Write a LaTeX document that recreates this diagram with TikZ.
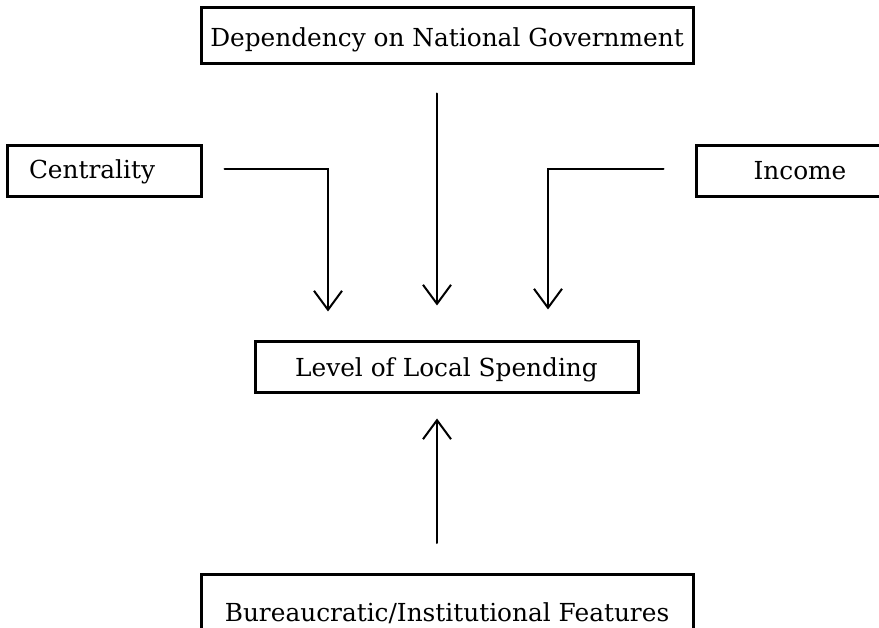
\documentclass[tikz,border=0pt]{standalone}
\usepackage{fontspec}
\setmainfont{DejaVu Serif}
\usetikzlibrary{arrows.meta}
\begin{document}
\begin{tikzpicture}[x=1pt,y=-1pt,
  box/.style={draw, line width=3pt, inner sep=0pt, text depth=6pt,
    font=\fontsize{24.8}{29}\selectfont},
  link/.style={line width=2pt, line cap=round,
    -{Straight Barb[length=19pt,width=28pt,line width=2pt]}}]
\useasboundingbox (0,0) rectangle (879,628);

% factor boxes
\node[box, minimum width=492pt, minimum height=56pt, text height=28pt]
  (dep) at (447,36) {Dependency on National Government};
\node[box, minimum height=51pt, inner xsep=22pt, text width=150pt, align=left,
  text height=21pt] (cent) at (104,171.5) {Centrality};
\node[box, minimum width=208pt, minimum height=51pt, text height=23pt]
  (inc) at (800,171.5) {Income};
\node[box, minimum width=383pt, minimum height=51pt, text height=25pt]
  (lvl) at (446.5,367.5) {Level of Local Spending};
\node[box, anchor=north, minimum width=492pt, minimum height=60pt, text height=40pt]
  (bur) at (447,573) {Bureaucratic/Institutional Features};

% influences on spending
\draw[link, shorten >=29pt] ([xshift=22pt,yshift=2.5pt]cent.east) -| ([xshift=-118.5pt]lvl.north);
\draw[link, shorten <=28pt, shorten >=35pt] ([xshift=-10pt]dep.south) -- ([xshift=-9.5pt]lvl.north);
\draw[link, shorten >=31pt] ([xshift=-31pt,yshift=2.5pt]inc.west) -| ([xshift=101.5pt]lvl.north);
\draw[link, shorten <=30pt, shorten >=24pt] ([xshift=-10pt]bur.north) -- ([xshift=-9.5pt]lvl.south);
\end{tikzpicture}
\end{document}
